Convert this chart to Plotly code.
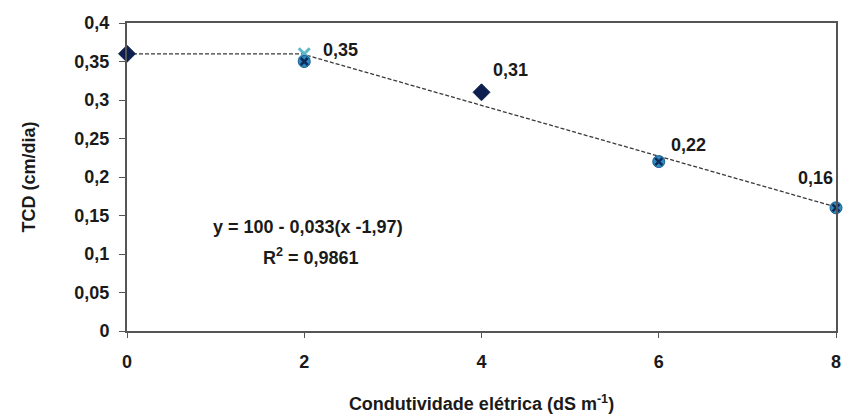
import plotly.graph_objects as go

# Data
x_s1 = [0, 4]
y_s1 = [0.36, 0.31]
x_s2 = [2, 6, 8]
y_s2 = [0.35, 0.22, 0.16]
x_s3 = [2]
y_s3 = [0.36]
label_x = [2, 4, 6, 8]
label_y = [0.35, 0.31, 0.22, 0.16]
label_txt = ["0,35", "0,31", "0,22", "0,16"]
# plateau-linear model parameters
plateau = 0.36
slope = 0.033
x_break = 1.97
model_x = [0, x_break, 8]
model_y = [plateau if xv <= x_break else plateau - slope * (xv - x_break) for xv in model_x]

yticks = [0, 0.05, 0.1, 0.15, 0.2, 0.25, 0.3, 0.35, 0.4]
yticktext = ["0", "0,05", "0,1", "0,15", "0,2", "0,25", "0,3", "0,35", "0,4"]
xticks = [0, 2, 4, 6, 8]

FONT = "Liberation Sans, Arial, sans-serif"
TXT = "#1a1a1a"
FS = 18

plot_l, plot_r, plot_t, plot_b = 127, 836, 23, 331


def b(s):
    return "<b>" + s + "</b>"


fig = go.Figure()
fig.add_trace(go.Scatter(x=model_x, y=model_y, mode="lines",
                         line=dict(color="#3a3a3a", width=1.3, dash="4px,2px"),
                         showlegend=False, hoverinfo="skip", cliponaxis=False))
fig.add_trace(go.Scatter(x=x_s3, y=y_s3, mode="markers",
                         marker=dict(symbol="x-thin", size=11, line=dict(color="#5fb8cc", width=3)),
                         showlegend=False, cliponaxis=False))
fig.add_trace(go.Scatter(x=x_s2, y=y_s2, mode="markers",
                         marker=dict(symbol="circle", size=12, color="#2c8cc0",
                                     line=dict(color="#1a5a8c", width=1)),
                         showlegend=False, cliponaxis=False))
fig.add_trace(go.Scatter(x=x_s2, y=y_s2, mode="markers",
                         marker=dict(symbol="x-thin", size=7, line=dict(color="#0d2a5a", width=2.5)),
                         showlegend=False, cliponaxis=False))
fig.add_trace(go.Scatter(x=x_s1, y=y_s1, mode="markers",
                         marker=dict(symbol="diamond", size=13, color="#0d1f4e",
                                     line=dict(color="#0d1f4e", width=1)),
                         showlegend=False, cliponaxis=False))

shifts = [(17, 12, "left"), (9, 22, "left"), (10, 17, "left"), (-1, 30, "right")]
for xv, yv, t, (dx, dy, al) in zip(label_x, label_y, label_txt, shifts):
    fig.add_annotation(x=xv, y=yv, text=b(t), showarrow=False, xanchor=al, yanchor="middle",
                       xshift=dx, yshift=dy, font=dict(family=FONT, size=FS, color=TXT))


def px(xp):
    return (xp - plot_l) / (plot_r - plot_l)


def py(yp):
    return (plot_b - yp) / (plot_b - plot_t)


fig.add_annotation(x=px(308), y=py(227), xref="paper", yref="paper",
                   text=b("y = 100 - 0,033(x -1,97)"), showarrow=False,
                   xanchor="center", yanchor="middle",
                   font=dict(family=FONT, size=FS, color=TXT))
fig.add_annotation(x=px(311), y=py(256), xref="paper", yref="paper",
                   text=b("R<sup>2</sup> = 0,9861"), showarrow=False,
                   xanchor="center", yanchor="middle",
                   font=dict(family=FONT, size=FS, color=TXT))

fig.update_layout(
    width=843, height=420,
    margin=dict(l=plot_l, r=843 - plot_r, t=plot_t, b=420 - plot_b),
    paper_bgcolor="white", plot_bgcolor="white",
    font=dict(family=FONT, size=FS, color=TXT),
    showlegend=False,
)
fig.update_xaxes(range=[0, 8], tickvals=xticks, ticktext=[b(str(v)) for v in xticks],
                 automargin=False, ticklabeloverflow="allow",
                 showgrid=False, zeroline=False, showline=True, linecolor="#555555", linewidth=2,
                 mirror=True, ticks="outside", ticklen=5, tickcolor="#555555",
                 ticklabelstandoff=8,
                 tickfont=dict(family=FONT, size=FS, color=TXT),
                 title=dict(text=b("Condutividade elétrica (dS m<sup>-1</sup>)"), standoff=27,
                            font=dict(family=FONT, size=FS, color=TXT)))
fig.update_yaxes(range=[0, 0.4], tickvals=yticks, ticktext=[b(t) for t in yticktext],
                 automargin=False,
                 showgrid=False, zeroline=False, showline=True, linecolor="#555555", linewidth=2,
                 mirror=True, ticks="outside", ticklen=6, tickcolor="#555555",
                 ticklabelstandoff=6,
                 tickfont=dict(family=FONT, size=FS, color=TXT),
                 title=dict(text=b("TCD (cm/dia)"), standoff=34,
                            font=dict(family=FONT, size=FS, color=TXT)))

fig.write_html("out.html")
